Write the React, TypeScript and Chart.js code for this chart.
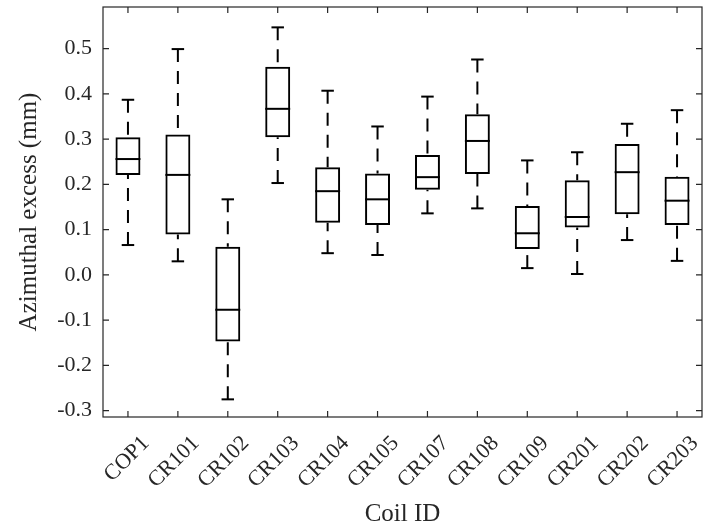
import React, { useEffect, useRef } from 'react';
import { Chart, registerables } from 'chart.js';

Chart.register(...registerables);

const categories = ['COP1', 'CR101', 'CR102', 'CR103', 'CR104', 'CR105', 'CR107', 'CR108', 'CR109', 'CR201', 'CR202', 'CR203'];
const whiskerHigh = [0.387, 0.499, 0.167, 0.547, 0.407, 0.328, 0.394, 0.476, 0.253, 0.271, 0.334, 0.364];
const quartile3 = [0.304, 0.310, 0.062, 0.460, 0.238, 0.224, 0.265, 0.355, 0.152, 0.209, 0.289, 0.217];
const medians = [0.256, 0.221, -0.077, 0.367, 0.185, 0.167, 0.216, 0.296, 0.092, 0.128, 0.227, 0.164];
const quartile1 = [0.221, 0.0895, -0.147, 0.304, 0.115, 0.110, 0.188, 0.223, 0.057, 0.105, 0.134, 0.110];
const whiskerLow = [0.066, 0.030, -0.275, 0.203, 0.048, 0.044, 0.136, 0.147, 0.015, 0.002, 0.077, 0.031];
const yTicks = [-0.3, -0.2, -0.1, 0.0, 0.1, 0.2, 0.3, 0.4, 0.5];
const yMin = -0.314;
const yMax = 0.592;
const xTitle = 'Coil ID';
const yTitle = 'Azimuthal excess (mm)';

const AXIS = '#262626';
const FONT = '"Liberation Serif", "Times New Roman", serif';
const TICK_FONT_SIZE = 22;
const TITLE_FONT_SIZE = 25;

const boxPlugin = {
  id: 'boxplotExtras',
  afterDatasetsDraw(chart: any) {
    const { ctx, scales } = chart;
    const x = scales.x;
    const y = scales.y;
    const step = x.getPixelForValue(1) - x.getPixelForValue(0);
    const capHalf = step * 0.125;
    const boxHalf = step * 0.25;
    const seg = (x1: number, y1: number, x2: number, y2: number) => {
      ctx.beginPath();
      ctx.moveTo(x1, y1);
      ctx.lineTo(x2, y2);
      ctx.stroke();
    };
    ctx.save();
    ctx.strokeStyle = '#000';
    ctx.lineWidth = 2;
    categories.forEach((_, i) => {
      const cx = x.getPixelForValue(i);
      ctx.setLineDash([]);
      const pm = y.getPixelForValue(medians[i]);
      seg(cx - boxHalf, pm, cx + boxHalf, pm);
      const ph = y.getPixelForValue(whiskerHigh[i]);
      const pl = y.getPixelForValue(whiskerLow[i]);
      seg(cx - capHalf, ph, cx + capHalf, ph);
      seg(cx - capHalf, pl, cx + capHalf, pl);
      ctx.setLineDash([13, 9]);
      seg(cx, ph, cx, y.getPixelForValue(quartile3[i]));
      seg(cx, pl, cx, y.getPixelForValue(quartile1[i]));
    });
    ctx.restore();
  },
  afterDraw(chart: any) {
    const { ctx, chartArea, scales } = chart;
    const x = scales.x;
    const y = scales.y;
    const { left, right, top, bottom } = chartArea;
    ctx.save();
    ctx.strokeStyle = AXIS;
    ctx.lineWidth = 1.2;
    ctx.setLineDash([]);
    ctx.strokeRect(left, top, right - left, bottom - top);
    const tl = 6;
    ctx.beginPath();
    yTicks.forEach((v) => {
      const py = y.getPixelForValue(v);
      ctx.moveTo(left, py);
      ctx.lineTo(left + tl, py);
      ctx.moveTo(right, py);
      ctx.lineTo(right - tl, py);
    });
    categories.forEach((_, i) => {
      const px = x.getPixelForValue(i);
      ctx.moveTo(px, bottom);
      ctx.lineTo(px, bottom - tl);
      ctx.moveTo(px, top);
      ctx.lineTo(px, top + tl);
    });
    ctx.stroke();

    // rotated category labels
    ctx.fillStyle = AXIS;
    ctx.font = `${TICK_FONT_SIZE}px ${FONT}`;
    ctx.textAlign = 'right';
    ctx.textBaseline = 'middle';
    categories.forEach((c, i) => {
      const px = x.getPixelForValue(i);
      ctx.save();
      ctx.translate(px + 18, bottom + 23);
      ctx.rotate(-Math.PI / 4);
      ctx.fillText(c, 0, 0);
      ctx.restore();
    });

    // axis titles
    ctx.font = `${TITLE_FONT_SIZE}px ${FONT}`;
    ctx.textAlign = 'center';
    ctx.textBaseline = 'alphabetic';
    ctx.fillText(xTitle, (left + right) / 2, 521);
    ctx.save();
    ctx.translate(36, (top + bottom) / 2);
    ctx.rotate(-Math.PI / 2);
    ctx.fillText(yTitle, 0, 0);
    ctx.restore();
    ctx.restore();
  },
};

export default function App() {
  const canvasRef = useRef<HTMLCanvasElement | null>(null);

  useEffect(() => {
    const canvas = canvasRef.current;
    if (!canvas) return;
    const chart = new Chart(canvas, {
      type: 'bar',
      data: {
        labels: categories,
        datasets: [
          {
            data: categories.map((_, i) => [quartile1[i], quartile3[i]]) as any,
            backgroundColor: 'rgba(0,0,0,0)',
            borderColor: '#000',
            borderWidth: 2,
            borderSkipped: false,
            barPercentage: 0.5,
            categoryPercentage: 1,
          },
        ],
      },
      options: {
        animation: false,
        responsive: false,
        events: [],
        layout: { padding: { top: 7, right: 3, bottom: 0, left: 0 } },
        plugins: {
          legend: { display: false },
          tooltip: { enabled: false },
          title: { display: false },
        },
        scales: {
          x: {
            type: 'category',
            grid: { display: false, drawTicks: false },
            border: { display: false },
            ticks: { display: false },
            afterFit: (s: any) => {
              s.height = 109;
              s.paddingLeft = 0;
              s.paddingRight = 0;
            },
          },
          y: {
            type: 'linear',
            min: yMin,
            max: yMax,
            grid: { display: false, drawTicks: false },
            border: { display: false },
            afterBuildTicks: (s: any) => {
              s.ticks = yTicks.map((v) => ({ value: v }));
            },
            afterFit: (s: any) => {
              s.width = 103;
              s.paddingTop = 0;
              s.paddingBottom = 0;
            },
            ticks: {
              padding: 11,
              color: AXIS,
              font: { family: FONT, size: TICK_FONT_SIZE },
              callback: (v: any) => Number(v).toFixed(1),
            },
          },
        },
      },
      plugins: [boxPlugin],
    });
    return () => chart.destroy();
  }, []);

  return (
    <div style={{ position: 'fixed', left: 0, top: 0, width: 705, height: 526, background: '#fff' }}>
      <canvas ref={canvasRef} width={705} height={526} style={{ display: 'block' }} />
    </div>
  );
}
